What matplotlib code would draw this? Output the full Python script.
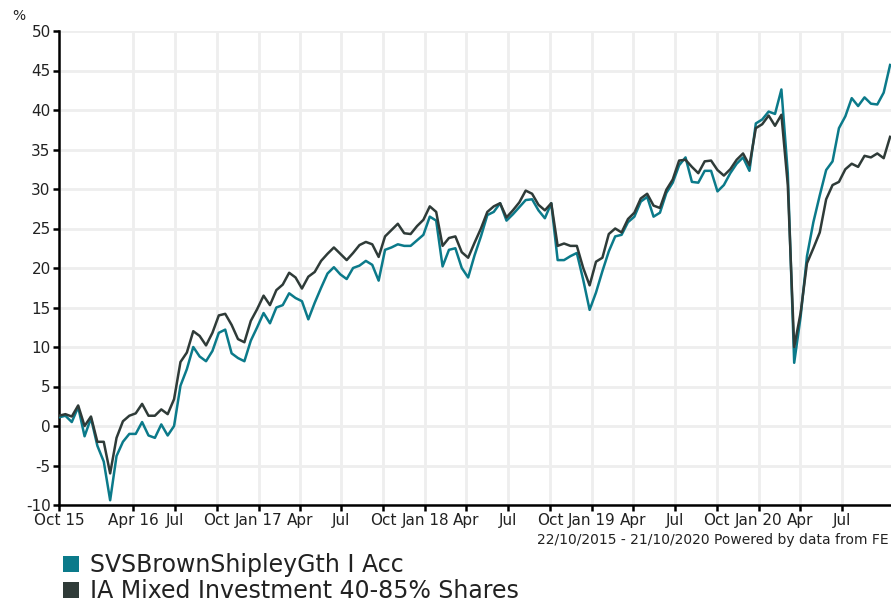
import matplotlib
matplotlib.use("Agg")
import matplotlib.pyplot as plt
import matplotlib.dates as mdates
from matplotlib.patches import Patch
import pandas as pd

# ---- data (biweekly readings, % growth) ----
start_date = "2015-10-22"
n_points = 131

svs_values = [
    1.1, 1.3, 0.5, 2.4, -1.3, 1.0, -2.5, -4.5, -9.4, -3.8,
    -2.0, -1.0, -1.0, 0.5, -1.2, -1.5, 0.2, -1.2, 0.0, 5.1,
    7.2, 10.0, 8.8, 8.2, 9.5, 11.8, 12.2, 9.2, 8.6, 8.2,
    10.8, 12.5, 14.3, 13.0, 15.0, 15.3, 16.8, 16.2, 15.8, 13.5,
    15.6, 17.5, 19.3, 20.1, 19.2, 18.6, 20.0, 20.3, 20.9, 20.4,
    18.4, 22.3, 22.6, 23.0, 22.8, 22.8, 23.5, 24.2, 26.5, 26.0,
    20.2, 22.3, 22.5, 20.0, 18.8, 21.6, 24.0, 26.7, 27.1, 28.2,
    26.0, 26.8, 27.7, 28.6, 28.7, 27.3, 26.3, 28.2, 21.0, 21.0,
    21.5, 21.9, 18.5, 14.7, 16.9, 19.6, 22.1, 24.0, 24.2, 25.8,
    26.5, 28.4, 29.0, 26.5, 27.0, 29.5, 30.8, 33.0, 34.0, 30.9,
    30.8, 32.3, 32.3, 29.7, 30.5, 32.0, 33.2, 34.0, 32.3, 38.3,
    38.8, 39.8, 39.5, 42.6, 32.0, 8.0, 13.8, 21.5, 25.8, 29.2,
    32.4, 33.5, 37.7, 39.2, 41.5, 40.5, 41.6, 40.8, 40.7, 42.2,
    45.7,
]

ia_values = [
    1.3, 1.5, 1.2, 2.6, 0.0, 1.2, -2.0, -2.0, -6.0, -1.5,
    0.6, 1.3, 1.6, 2.8, 1.3, 1.3, 2.1, 1.5, 3.4, 8.1,
    9.3, 12.0, 11.4, 10.2, 11.8, 14.0, 14.2, 12.8, 11.0, 10.6,
    13.3, 14.8, 16.5, 15.3, 17.2, 17.9, 19.4, 18.8, 17.4, 18.9,
    19.5, 20.9, 21.8, 22.6, 21.8, 21.0, 21.9, 22.9, 23.3, 23.0,
    21.4, 24.0, 24.8, 25.6, 24.4, 24.3, 25.3, 26.1, 27.8, 27.1,
    22.8, 23.8, 24.0, 22.0, 21.3, 23.2, 25.0, 27.1, 27.8, 28.2,
    26.4, 27.3, 28.3, 29.8, 29.4, 28.0, 27.3, 28.2, 22.8, 23.1,
    22.8, 22.8, 20.0, 17.8, 20.8, 21.3, 24.3, 25.0, 24.5, 26.2,
    27.0, 28.8, 29.4, 27.9, 27.6, 29.9, 31.2, 33.6, 33.7, 32.8,
    32.0, 33.5, 33.6, 32.4, 31.7, 32.5, 33.7, 34.5, 33.0, 37.7,
    38.2, 39.3, 38.0, 39.4, 30.5, 10.0, 14.3, 20.6, 22.5, 24.5,
    28.7, 30.5, 30.9, 32.5, 33.2, 32.8, 34.2, 34.0, 34.5, 33.9,
    36.6,
]

series_names = ["SVSBrownShipleyGth I Acc", "IA Mixed Investment 40-85% Shares"]

tick_dates = ["2015-10-22", "2016-04-01", "2016-07-01", "2016-10-01",
              "2017-01-01", "2017-04-01", "2017-07-01", "2017-10-01",
              "2018-01-01", "2018-04-01", "2018-07-01", "2018-10-01",
              "2019-01-01", "2019-04-01", "2019-07-01", "2019-10-01",
              "2020-01-01", "2020-04-01", "2020-07-01"]
tick_labels = ["Oct 15", "Apr 16", "Jul", "Oct", "Jan 17", "Apr", "Jul", "Oct",
               "Jan 18", "Apr", "Jul", "Oct", "Jan 19", "Apr", "Jul", "Oct",
               "Jan 20", "Apr", "Jul"]
y_ticks = [-10, -5, 0, 5, 10, 15, 20, 25, 30, 35, 40, 45, 50]

footer = "22/10/2015 - 21/10/2020 Powered by data from FE"

# ---- styling ----
TEAL = "#0b7a8a"
DARK = "#2f3b38"
GRID = "#eeeeee"

plt.rcParams["font.family"] = ["DejaVu Sans"]

W, H = 891, 602
fig = plt.figure(figsize=(W / 100, H / 100), dpi=100)
ax = fig.add_axes([59 / W, 97 / H, (891 - 59) / W, (505 - 31) / H])

dates = pd.date_range(start_date, periods=n_points, freq="14D")

ax.plot(dates, svs_values, color=TEAL, lw=1.8, zorder=3, solid_joinstyle="round")
ax.plot(dates, ia_values, color=DARK, lw=1.8, zorder=4, solid_joinstyle="round")

ax.set_xlim(pd.Timestamp("2015-10-22"), pd.Timestamp("2020-10-17"))
ax.set_ylim(-10, 50)

ax.set_yticks(y_ticks)
ax.set_yticklabels([str(v) for v in y_ticks])
ax.set_xticks([mdates.date2num(pd.Timestamp(d)) for d in tick_dates])
ax.set_xticklabels(tick_labels)

ax.grid(True, color=GRID, lw=2, zorder=0)
ax.set_axisbelow(True)

for s in ["top", "right"]:
    ax.spines[s].set_visible(False)
for s in ["left", "bottom"]:
    ax.spines[s].set_linewidth(1.8)
    ax.spines[s].set_color("black")
ax.tick_params(axis="both", direction="out", length=4, width=1.8,
               labelsize=11, colors="black", labelcolor="#222222", pad=2)

fig.text(12 / W, 1 - 16 / H, "%", fontsize=10, color="#222222", va="center", ha="left")
fig.text(889 / W, 1 - 540 / H, footer, fontsize=10, color="#222222",
         ha="right", va="center")

handles = [Patch(facecolor=TEAL, edgecolor="none"), Patch(facecolor=DARK, edgecolor="none")]
fig.legend(handles, series_names, loc="upper left", bbox_to_anchor=(63 / W, 1 - 553 / H),
           frameon=False, fontsize=17, handlelength=0.68, handleheight=0.68,
           handletextpad=0.45, labelspacing=0.08, borderaxespad=0, borderpad=0,
           labelcolor="#222222")

fig.savefig("out.png", dpi=100)
